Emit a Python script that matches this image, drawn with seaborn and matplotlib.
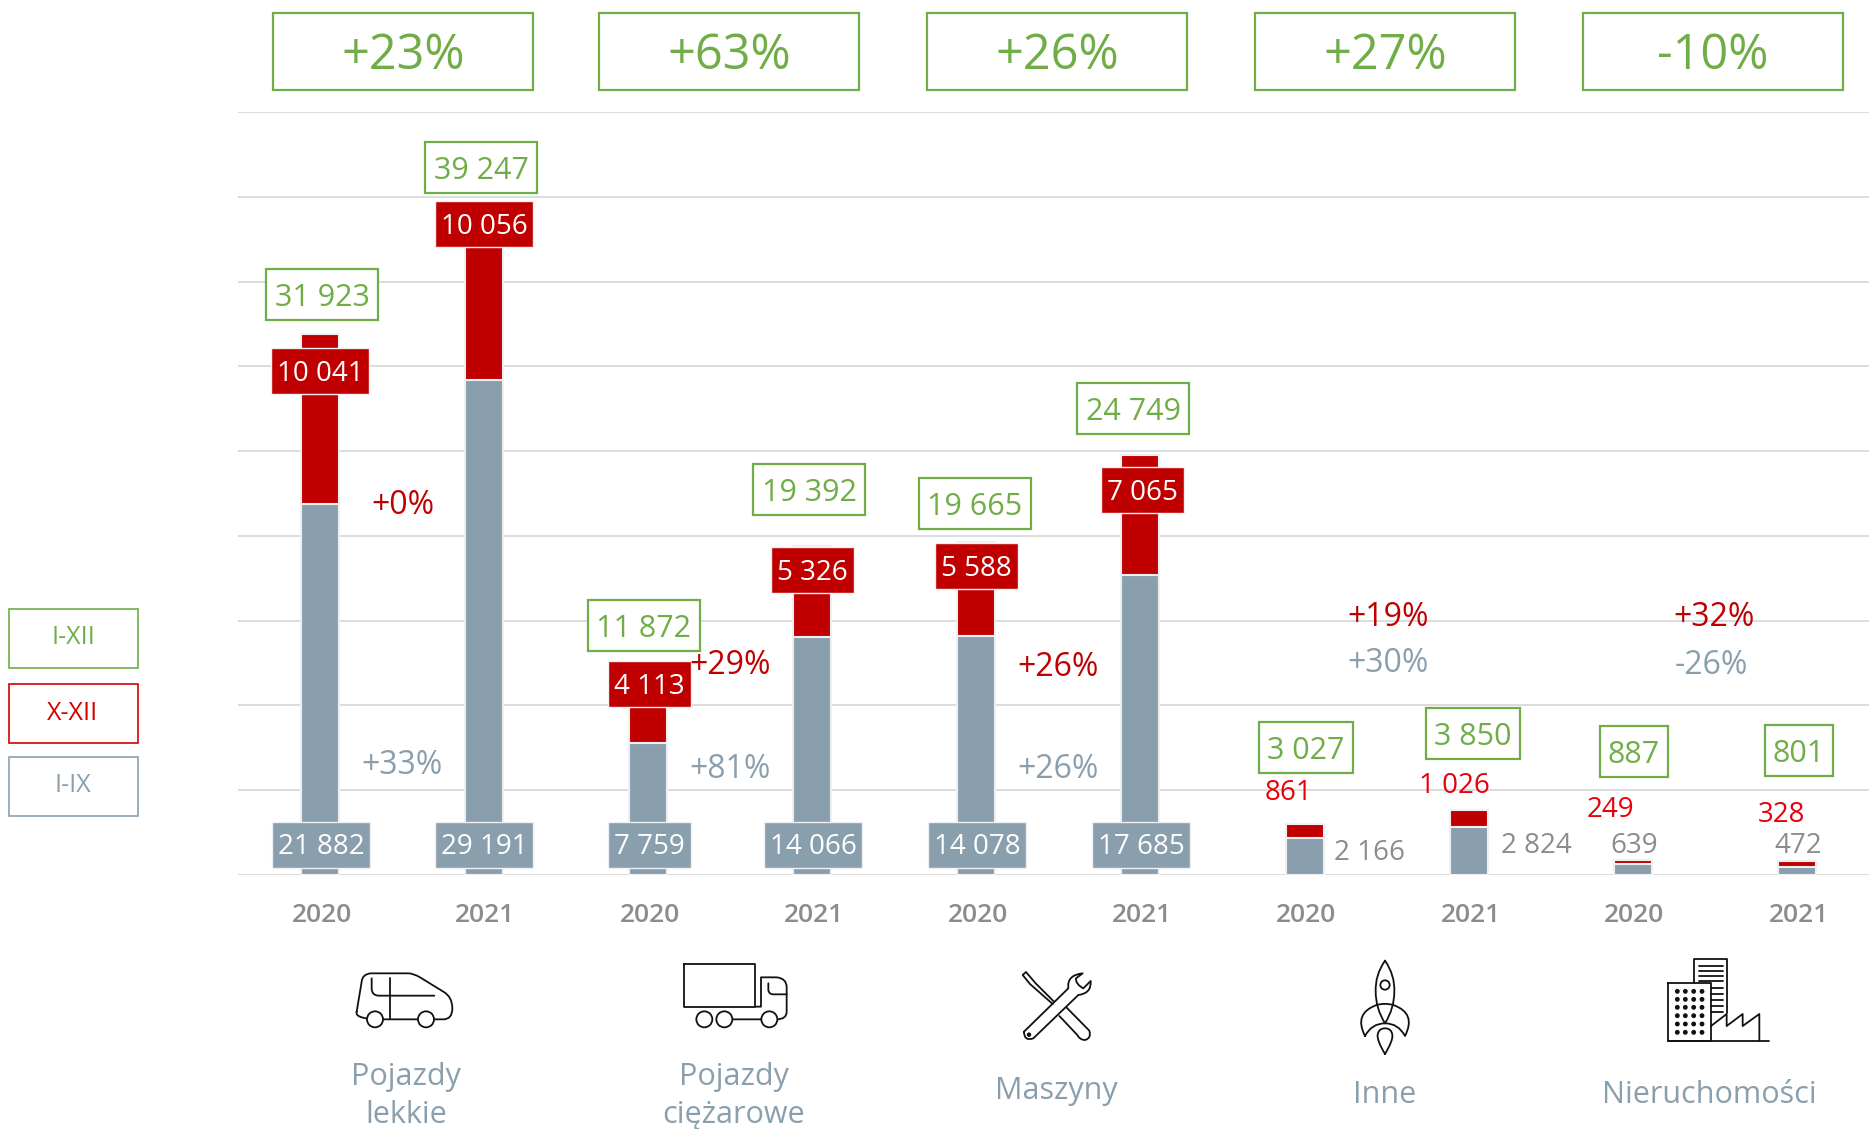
import numpy as np
import pandas as pd
import seaborn as sns
import matplotlib.pyplot as plt
from matplotlib.patches import Rectangle, Circle, PathPatch
from matplotlib.path import Path

# I-IX and X-XII per bar
years = ['2020', '2021'] * 5
grey_vals = [21882, 29191, 7759, 14066, 14078, 17685, 2166, 2824, 639, 472]
red_vals = [10041, 10056, 4113, 5326, 5588, 7065, 861, 1026, 249, 328]
grey_text = ['21 882', '29 191', '7 759', '14 066', '14 078', '17 685', '2 166', '2 824', '639', '472']
red_text = ['10 041', '10 056', '4 113', '5 326', '5 588', '7 065', '861', '1 026', '249', '328']
total_text = ['31 923', '39 247', '11 872', '19 392', '19 665', '24 749', '3 027', '3 850', '887', '801']
top_pct = ['+23%', '+63%', '+26%', '+27%', '-10%']
red_pct = ['+0%', '+29%', '+26%', '+19%', '+32%']
grey_pct = ['+33%', '+81%', '+26%', '+30%', '-26%']

GREEN = '#70ad47'
RED = '#c00000'
GREY = '#8a9fad'
W, H = 1869, 1129

sns.set_style('white')
plt.rcParams['font.family'] = ['Open Sans', 'DejaVu Sans']

fig = plt.figure(figsize=(W / 100, H / 100), dpi=100)
ax = fig.add_axes([238 / W, 1 - 875 / H, (W - 238) / W, (875 - 112) / H])

df = pd.DataFrame({'bar': range(10), 'total': np.array(grey_vals) + np.array(red_vals), 'grey': grey_vals})
sns.barplot(data=df, x='bar', y='total', color=RED, saturation=1, width=0.232, native_scale=True,
            edgecolor='#eef0f2', linewidth=1.5, ax=ax, zorder=3)
sns.barplot(data=df, x='bar', y='grey', color=GREY, saturation=1, width=0.232, native_scale=True,
            edgecolor='#eef0f2', linewidth=1.5, ax=ax, zorder=3)
ax.set_xlim(-0.5, 9.44)
ax.set_ylim(0, 45000)
ax.set_yticks(np.arange(0, 45001, 5000))
ax.yaxis.grid(True, color='#d9d9d9', lw=1.3, zorder=0)
ax.set_axisbelow(True)
ax.set_xlabel('')
ax.set_ylabel('')
ax.set_yticklabels([])
ax.set_xticks(range(10))
ax.set_xticklabels([])
ax.tick_params(length=0)
sns.despine(ax=ax, left=True, top=True, right=True, bottom=True)

# overlay in picture pixels for boxes, labels and icons
ov = fig.add_axes([0, 0, 1, 1], zorder=5)
ov.set_xlim(0, W)
ov.set_ylim(H, 0)
ov.axis('off')
ov.patch.set_alpha(0)

bar_x = [321, 484, 649, 813, 977, 1141, 1305, 1470, 1633, 1798]


def box(cx, cy, w, h, txt, color, size, fill=False, lw=1.6, tcolor=None, dy=4):
    ov.add_patch(Rectangle((cx - w / 2, cy - h / 2), w, h, fc=color if fill else 'white',
                           ec='#eef0f2' if fill else color, lw=lw))
    ov.text(cx, cy + dy, txt, color=tcolor or color, fontsize=size, ha='center', va='center')


# top percent boxes
for cx, t in zip([403, 729, 1057, 1385, 1713], top_pct):
    box(cx, 51, 260, 77, t, GREEN, 35, dy=5)
# legend
for cy, t, c in zip([638, 713, 786], ['I-XII', 'X-XII', 'I-IX'], [GREEN, '#d40000', GREY]):
    box(73, cy, 129, 59, t, c, 18, lw=1.2, dy=0)

# totals
total_xy = [(322, 294), (481, 167), (644, 625), (809, 489), (975, 503), (1133, 408),
            (1306, 747), (1473, 733), (1634, 751), (1799, 750)]
for (cx, cy), t, in zip(total_xy, total_text):
    box(cx, cy, 112 if len(t) > 5 else (94 if len(t) > 3 else 68), 51, t, GREEN, 22)

# red value labels
red_xy = [(320, 371), (484, 224), (649, 684), (812, 570), (976, 566), (1142, 490)]
for (cx, cy), t in zip(red_xy, red_text[:6]):
    box(cx, cy, 98 if len(t) > 5 else 83, 46, t, RED, 20, fill=True, lw=1, tcolor='white', dy=3)
for (cx, cy), t in zip([(1289, 793), (1454, 786), (1610, 810), (1782, 815)], red_text[6:]):
    ov.text(cx, cy, t, color='#e8000b', fontsize=20, ha='center', va='center')

# grey value labels
for cx, t in zip(bar_x[:6], grey_text[:6]):
    w = 98 if len(t) > 5 else 83
    box(cx, 845, w, 46, t, GREY, 20, fill=True, lw=1, tcolor='white', dy=2)
for (cx, cy), t in zip([(1370, 853), (1536, 846), (1634, 846), (1798, 846)], grey_text[6:]):
    ov.text(cx, cy, t, color='#8c8c8c', fontsize=20, ha='center', va='center')

# year labels under the bars
for cx, t in zip(bar_x, years):
    ov.text(cx + 1, 915, t, color='#8c8c8c', fontsize=19, fontweight='semibold', ha='center', va='center')

# change percents between the bars
for (cx, cy), t in zip([(403, 506), (730, 665), (1058, 667), (1388, 617), (1714, 618)], red_pct):
    ov.text(cx, cy, t, color=RED, fontsize=23, ha='center', va='center')
for (cx, cy), t in zip([(402, 766), (730, 769), (1058, 769), (1388, 663), (1711, 665)], grey_pct):
    ov.text(cx, cy, t, color=GREY, fontsize=23, ha='center', va='center')

# category names
for cx, cy, t in [(406, 1077, 'Pojazdy'), (406, 1115, 'lekkie'), (734, 1077, 'Pojazdy'),
                  (734, 1115, 'ciężarowe'), (1056, 1091, 'Maszyny'), (1385, 1095, 'Inne'),
                  (1709, 1095, 'Nieruchomości')]:
    ov.text(cx, cy, t, color=GREY, fontsize=22, ha='center', va='center')


# icons, sketched in 3x crop coordinates from an origin
def stroke(x0, y0, seq, fc='none', closed=False):
    verts, codes = [], []
    for i, p in enumerate(seq):
        if len(p) == 2:
            verts.append((x0 + p[0] / 3, y0 + p[1] / 3))
            codes.append(Path.MOVETO if i == 0 else Path.LINETO)
        else:
            verts += [(x0 + p[0] / 3, y0 + p[1] / 3), (x0 + p[2] / 3, y0 + p[3] / 3)]
            codes += [Path.CURVE3, Path.CURVE3]
    ov.add_patch(PathPatch(Path(verts, codes), fc=fc, ec='#111111', lw=1.3, capstyle='round', joinstyle='round'))


def ring(x0, y0, cx, cy, r, fc='white'):
    ov.add_patch(Circle((x0 + cx / 3, y0 + cy / 3), r / 3, fc=fc, ec='#111111', lw=1.3, zorder=3))


# car
stroke(345, 950, [(35, 185), (50, 95), (52, 72, 78, 70), (190, 70), (205, 70, 225, 82), (295, 125),
                  (322, 140, 322, 175), (322, 208, 295, 208), (115, 208), (60, 208, 45, 200), (32, 195, 35, 185)])
stroke(345, 950, [(80, 85), (80, 115), (80, 137, 102, 137), (268, 137)])
stroke(345, 950, [(135, 85), (135, 208)])
ring(345, 950, 90, 208, 24)
ring(345, 950, 243, 208, 24)

# truck
stroke(675, 950, [(28, 43), (241, 43), (241, 170), (28, 170), (28, 43)])
stroke(675, 950, [(241, 170), (258, 170), (258, 82), (305, 82), (335, 85, 335, 112), (335, 185),
                  (335, 208, 305, 208), (172, 208)])
stroke(675, 950, [(280, 100), (280, 120), (282, 133, 295, 133), (335, 133)])
ring(675, 950, 88, 208, 24)
ring(675, 950, 148, 208, 24)
ring(675, 950, 283, 208, 24)

# screwdriver and wrench
stroke(1000, 960, [(162, 125), (107, 70), (78, 36), (68, 45), (90, 72), (158, 132)])
stroke(1000, 960, [(200, 143), (268, 212), (275, 235, 255, 240), (240, 240, 232, 225), (178, 168)])
stroke(1000, 960, [(72, 215), (205, 85), (200, 45, 248, 40), (228, 55), (226, 72, 250, 85), (272, 63),
                   (275, 100, 235, 105), (100, 235), (72, 245, 72, 215)])
ring(1000, 960, 87, 224, 4, fc='#111111')

# rocket
stroke(1325, 955, [(180, 17), (150, 60, 152, 110), (152, 160, 180, 205), (208, 160, 208, 110), (210, 60, 180, 17)])
ring(1325, 955, 180, 90, 14)
stroke(1325, 955, [(120, 243), (85, 175, 155, 150), (180, 143, 205, 150), (275, 175, 240, 243),
                   (220, 205, 180, 205), (140, 205, 120, 243)])
stroke(1325, 955, [(180, 297), (155, 255, 158, 240), (160, 220, 180, 220), (200, 220, 202, 240),
                   (205, 255, 180, 297)])

# buildings
stroke(1660, 950, [(102, 100), (102, 28), (200, 28), (200, 190)])
for y in [47, 62, 77, 92]:
    stroke(1660, 950, [(117, y), (188, y)])
for y in [115, 132, 150, 168, 185]:
    stroke(1660, 950, [(153, y), (188, y)])
stroke(1660, 950, [(25, 100), (153, 100), (153, 272), (25, 272), (25, 100)])
stroke(1660, 950, [(25, 272), (328, 272)])
stroke(1660, 950, [(153, 228), (200, 192), (200, 228), (248, 192), (248, 228), (298, 192), (298, 272)])
for x in [52, 76, 101, 126]:
    for y in [124, 148, 172, 197, 222, 247]:
        ring(1660, 950, x, y, 4.5, fc='#111111')

fig.savefig('out.png', dpi=100)
